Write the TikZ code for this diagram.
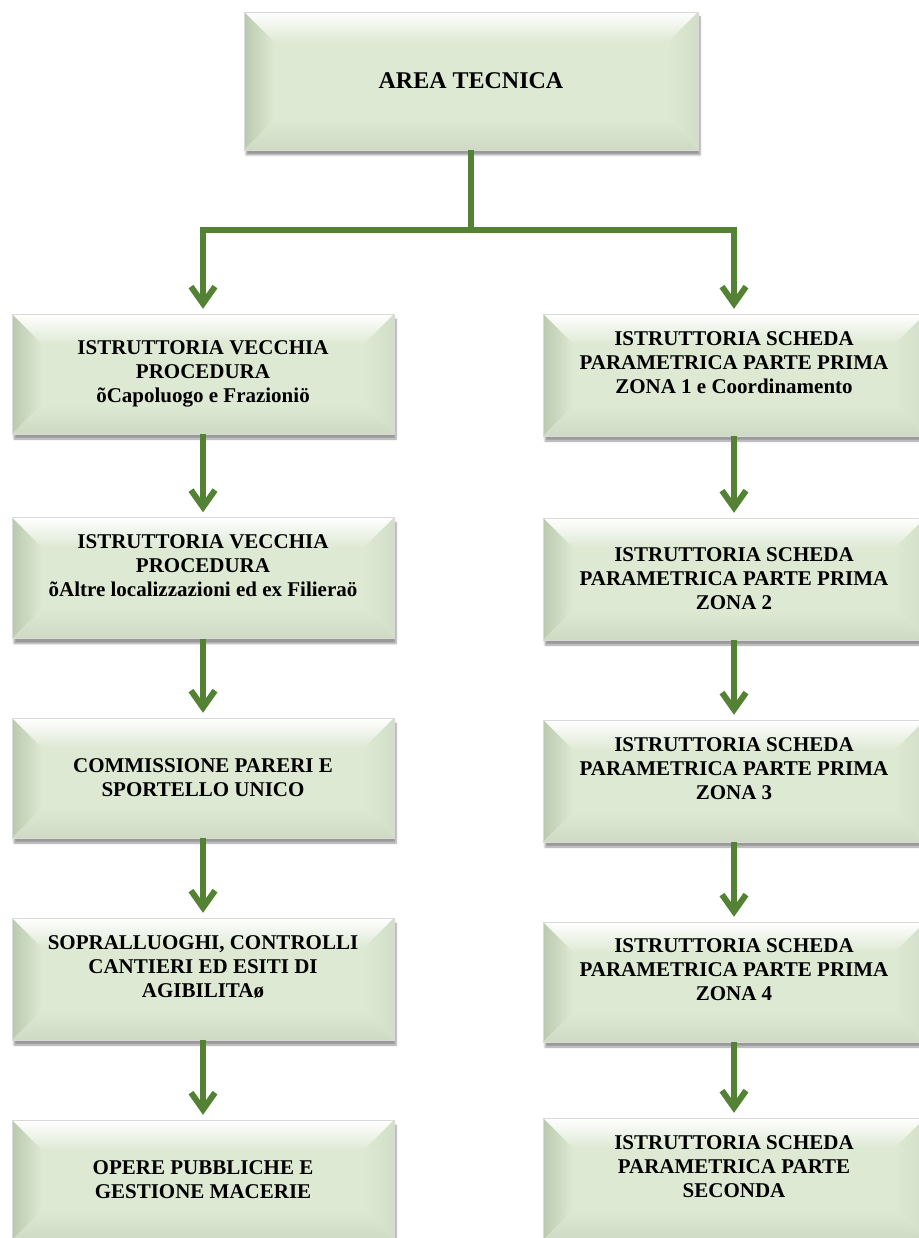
\documentclass[tikz,border=0pt]{standalone}
\usepackage{fontspec}
\setmainfont{Liberation Serif}
\usetikzlibrary{arrows.meta,shadows.blur}
\definecolor{boxgreen}{RGB}{222,233,212}
\definecolor{bevleft}{RGB}{186,201,174}
\definecolor{bevright}{RGB}{210,222,200}
\definecolor{bevbottom}{RGB}{206,218,196}
\definecolor{linkgreen}{RGB}{84,130,53}
\tikzset{
  bevel/.style={path picture={
      \path (path picture bounding box.north west) coordinate (bnw)
            (path picture bounding box.north east) coordinate (bne)
            (path picture bounding box.south west) coordinate (bsw)
            (path picture bounding box.south east) coordinate (bse);
      \shade[top color=white,bottom color=boxgreen] (bnw) -- (bne) -- ([shift={(-#1,#1)}]bne) -- ([shift={(#1,#1)}]bnw) -- cycle;
      \shade[left color=bevleft,right color=boxgreen] (bnw) -- ([shift={(#1,#1)}]bnw) -- ([shift={(#1,-#1)}]bsw) -- (bsw) -- cycle;
      \shade[left color=boxgreen,right color=bevright] (bne) -- (bse) -- ([shift={(-#1,-#1)}]bse) -- ([shift={(-#1,#1)}]bne) -- cycle;
      \shade[top color=boxgreen,bottom color=bevbottom] (bsw) -- (bse) -- ([shift={(-#1,-#1)}]bse) -- ([shift={(#1,-#1)}]bsw) -- cycle;
    }},
  ufficio/.style={fill=boxgreen, draw=black!15, bevel=30,
    blur shadow={shadow xshift=2pt,shadow yshift=-5pt,shadow blur steps=6},
    minimum width=382pt, minimum height=120pt, align=center,
    font=\bfseries\fontsize{21}{24}\selectfont},
  link/.style={draw=linkgreen, line width=6pt, shorten >=5pt,
    -{Straight Barb[length=17pt,width=24pt]}}
}

\begin{document}
\begin{tikzpicture}[x=1pt,y=-1pt]
  \useasboundingbox (0,0) rectangle (918,1238);
  \node[ufficio, minimum width=454pt, minimum height=138pt,
        font=\bfseries\fontsize{24}{28}\selectfont] (area) at (471,81) {AREA TECNICA};

  \node[ufficio] (vecchia1) at (203,374) {ISTRUTTORIA VECCHIA\\PROCEDURA\\õCapoluogo e Frazioniö};
  \node[ufficio, minimum height=121pt] (vecchia2) at (203,578) {ISTRUTTORIA VECCHIA\\PROCEDURA\\õAltre localizzazioni ed ex Filieraö\\\mbox{}};
  \node[ufficio] (pareri) at (203,778) {COMMISSIONE PARERI E\\SPORTELLO UNICO};
  \node[ufficio, minimum height=122pt] (sopralluoghi) at (203,979) {SOPRALLUOGHI, CONTROLLI\\CANTIERI ED ESITI DI\\AGIBILITAø\\\mbox{}};
  \node[ufficio] (macerie) at (203,1180) {OPERE PUBBLICHE E\\GESTIONE MACERIE};

  \node[ufficio, minimum height=122pt] (zona1) at (734,375) {ISTRUTTORIA SCHEDA\\PARAMETRICA PARTE PRIMA\\ZONA 1 e Coordinamento\\\mbox{}};
  \node[ufficio, minimum height=122pt] (zona2) at (734,579) {ISTRUTTORIA SCHEDA\\PARAMETRICA PARTE PRIMA\\ZONA 2};
  \node[ufficio, minimum height=122pt] (zona3) at (734,781) {ISTRUTTORIA SCHEDA\\PARAMETRICA PARTE PRIMA\\ZONA 3\\\mbox{}};
  \node[ufficio] (zona4) at (734,982) {ISTRUTTORIA SCHEDA\\PARAMETRICA PARTE PRIMA\\ZONA 4\\\mbox{}};
  \node[ufficio, minimum height=122pt] (seconda) at (734,1179) {ISTRUTTORIA SCHEDA\\PARAMETRICA PARTE\\SECONDA\\\mbox{}};

  \draw[link] (area.south) -- ++(0,80) -| (vecchia1.north);
  \draw[link] (area.south) -- ++(0,80) -| (zona1.north);
  \draw[link] (vecchia1) -- (vecchia2);
  \draw[link] (vecchia2) -- (pareri);
  \draw[link] (pareri) -- (sopralluoghi);
  \draw[link] (sopralluoghi) -- (macerie);
  \draw[link] (zona1) -- (zona2);
  \draw[link] (zona2) -- (zona3);
  \draw[link] (zona3) -- (zona4);
  \draw[link] (zona4) -- (seconda);
\end{tikzpicture}
\end{document}
